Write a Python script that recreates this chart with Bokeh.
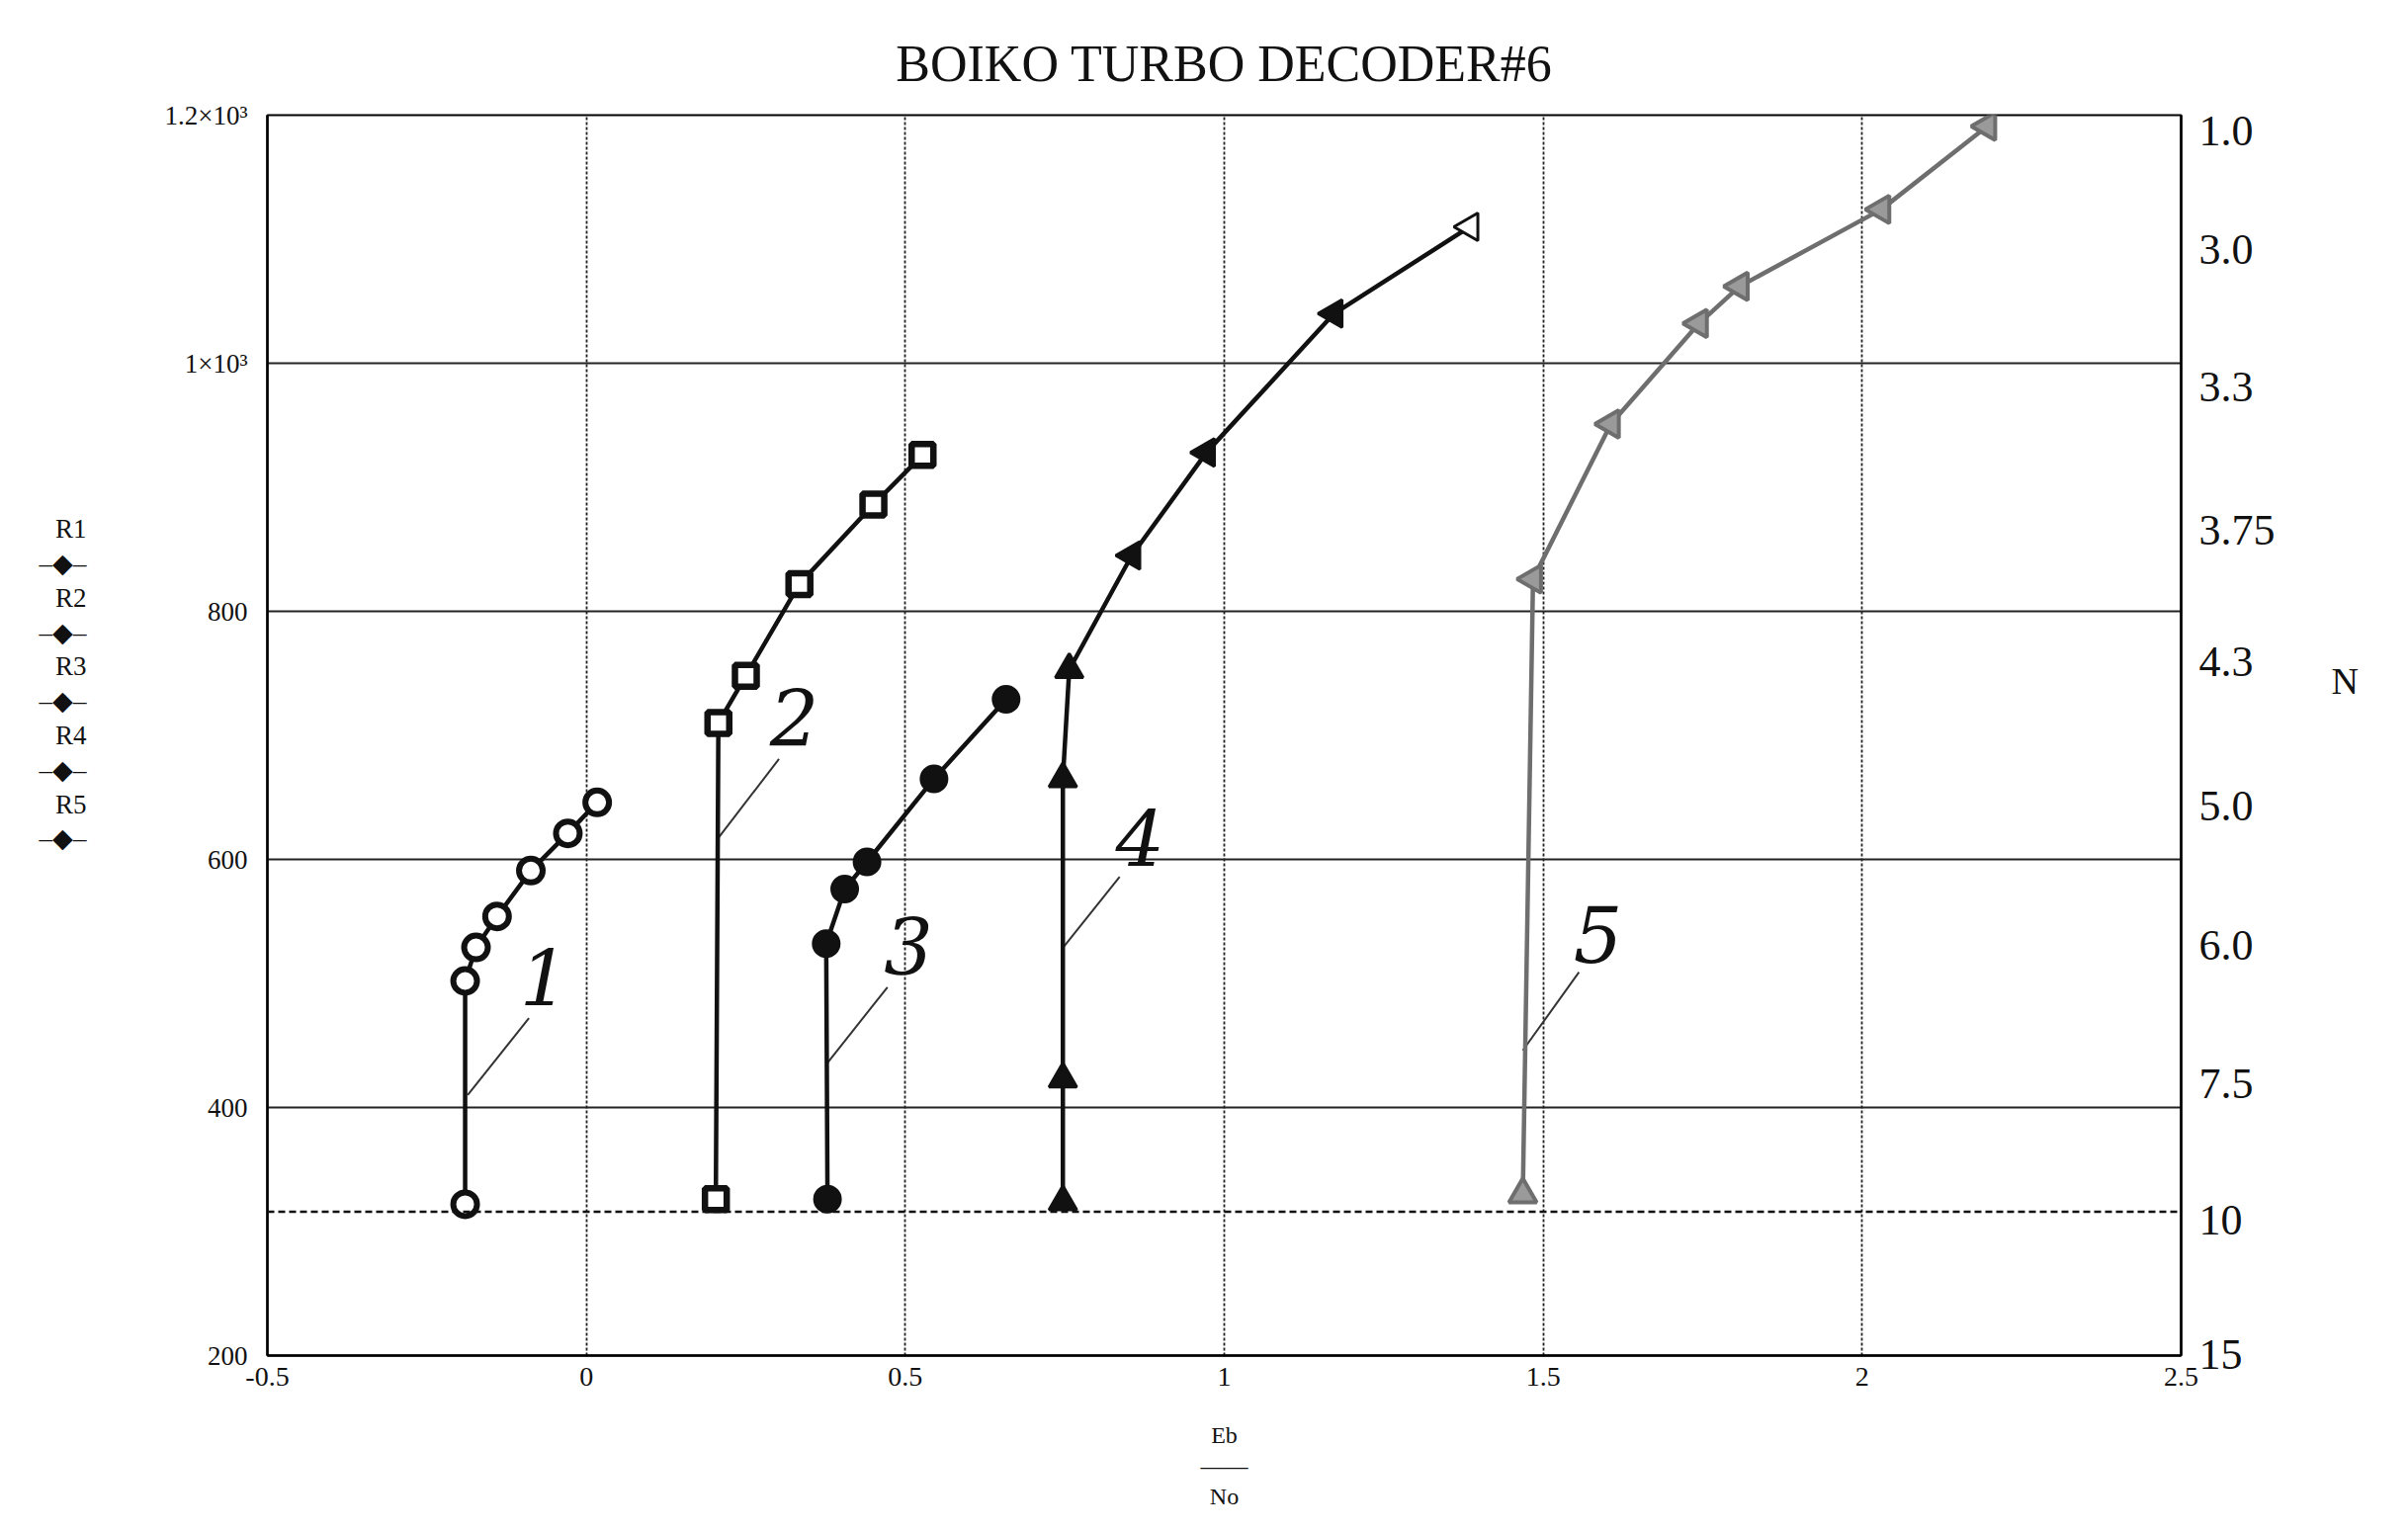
import math
from bokeh.plotting import figure
from bokeh.models import (LinearAxis, FixedTicker, Span, Label)
from bokeh.embed import file_html
from bokeh.resources import INLINE

# ---------------- data ----------------
title_text = "BOIKO TURBO DECODER#6"

c1_x = [-0.19, -0.19, -0.173, -0.14, -0.087, -0.029, 0.017]
c1_y = [322, 502, 529, 554, 591, 621, 646]

c2_x = [0.203, 0.207, 0.25, 0.334, 0.45, 0.527]
c2_y = [326, 710, 748, 822, 886, 926]

c3_x = [0.378, 0.376, 0.405, 0.44, 0.545, 0.658]
c3_y = [326, 532, 576, 598, 665, 729]

c4_x = [0.747, 0.747, 0.747, 0.757, 0.855, 0.972, 1.172, 1.385]
c4_y = [324, 423, 665, 753, 845, 928, 1040, 1110]

c5_x = [1.468, 1.484, 1.606, 1.744, 1.808, 2.03, 2.196]
c5_y = [330, 826, 951, 1032, 1062, 1124, 1191]

threshold_R = 316

x_ticks = [-0.5, 0, 0.5, 1, 1.5, 2, 2.5]
x_tick_labels = ["-0.5", "0", "0.5", "1", "1.5", "2", "2.5"]
y_ticks = [200, 400, 600, 800, 1000, 1200]
y_tick_labels = ["200", "400", "600", "800", "1×10³", "1.2×10³"]

n_ticks = [1187, 1092, 981, 865, 759, 643, 531, 419, 309, 201]
n_labels = ["1.0", "3.0", "3.3", "3.75", "4.3", "5.0", "6.0", "7.5", "10", "15"]

curve_names = ["1", "2", "3", "4", "5"]
name_x = [-0.066, 0.326, 0.505, 0.868, 1.586]
name_y = [505, 714, 530, 617, 540]
leader_x0 = [-0.09, 0.302, 0.472, 0.836, 1.556]
leader_y0 = [472, 681, 497, 586, 509]
leader_x1 = [-0.186, 0.208, 0.378, 0.749, 1.468]
leader_y1 = [410, 618, 436, 530, 446]

legend_items = ["R1", "R2", "R3", "R4", "R5"]
x_name = ["Eb", "——", "No"]
right_name = "N"

# ---------------- figure ----------------
W, H = 2420, 1533
p = figure(width=W, height=H, x_range=(-0.5, 2.5), y_range=(200, 1200),
           output_backend="svg", toolbar_location=None,
           min_border_left=270, min_border_right=214,
           min_border_top=116, min_border_bottom=162)
p.background_fill_color = "white"
p.border_fill_color = "white"
p.outline_line_color = "black"
p.outline_line_width = 2

serif = "Liberation Serif"
black = "#111111"
gray = "#6e6e6e"

# title
p.title.text = title_text
p.title.text_font = serif
p.title.text_font_size = "52px"
p.title.text_font_style = "normal"
p.title.text_color = black
p.title.align = "center"
p.title.standoff = 47

# axes
p.xaxis.ticker = FixedTicker(ticks=x_ticks)
p.xaxis.major_label_overrides = {t: l for t, l in zip(x_ticks, x_tick_labels)}
p.yaxis.ticker = FixedTicker(ticks=y_ticks)
p.yaxis.major_label_overrides = {t: l for t, l in zip(y_ticks, y_tick_labels)}
for ax in (p.xaxis[0], p.yaxis[0]):
    ax.axis_line_color = "black"
    ax.axis_line_width = 2.5
    ax.major_tick_out = 0
    ax.major_tick_in = 0
    ax.minor_tick_out = 0
    ax.minor_tick_in = 0
    ax.major_label_text_font = serif
    ax.major_label_text_color = black
    ax.axis_label_text_font = serif
    ax.axis_label_text_font_style = "normal"
    ax.axis_label_text_color = black
p.xaxis.major_label_text_font_size = "28px"
p.xaxis.major_label_standoff = 12
p.xaxis.axis_label = "\n".join(x_name)
p.xaxis.axis_label_text_font_size = "24px"
p.xaxis.axis_label_standoff = 34
p.xaxis.axis_label_text_line_height = 1.2

p.yaxis.major_label_text_font_size = "27px"
p.yaxis.major_label_standoff = 20
leg_lines = []
for t in legend_items:
    leg_lines += [t, "–◆–"]
leg_lines += [" ", " ", " "]
p.yaxis.axis_label = "\n".join(leg_lines)
p.yaxis.axis_label_orientation = "horizontal"
p.yaxis.axis_label_text_font_size = "27px"
p.yaxis.axis_label_text_line_height = 1.16
p.yaxis.axis_label_standoff = 76

rax = LinearAxis(ticker=FixedTicker(ticks=n_ticks))
rax.major_label_overrides = {t: l for t, l in zip(n_ticks, n_labels)}
rax.axis_line_color = "black"
rax.axis_line_width = 2.5
rax.major_tick_out = 0
rax.major_tick_in = 0
rax.minor_tick_out = 0
rax.minor_tick_in = 0
rax.major_label_text_font = serif
rax.major_label_text_font_size = "44px"
rax.major_label_text_color = black
rax.major_label_standoff = 18
rax.axis_label = right_name + "\n \n "
rax.axis_label_orientation = "horizontal"
rax.axis_label_text_font = serif
rax.axis_label_text_font_style = "normal"
rax.axis_label_text_font_size = "38px"
rax.axis_label_text_color = black
rax.axis_label_text_line_height = 1.3
rax.axis_label_standoff = 54
p.add_layout(rax, "right")

# grid
p.xgrid.ticker = FixedTicker(ticks=x_ticks)
p.ygrid.ticker = FixedTicker(ticks=y_ticks)
p.xgrid.grid_line_color = "#222222"
p.xgrid.grid_line_width = 1.8
p.xgrid.grid_line_dash = "3 2"
p.ygrid.grid_line_color = "#222222"
p.ygrid.grid_line_width = 2

p.add_layout(Span(location=threshold_R, dimension="width", line_color=black,
                  line_width=2.5, line_dash="7 4"))

# leader lines
p.segment(x0=leader_x0, y0=leader_y0, x1=leader_x1, y1=leader_y1,
          line_color="#333333", line_width=2)

# curves
p.line(c1_x, c1_y, line_color=black, line_width=4.5)
p.scatter(c1_x, c1_y, marker="circle", size=24, fill_color="white",
          line_color=black, line_width=6)

p.line(c2_x, c2_y, line_color=black, line_width=4.5)
p.scatter(c2_x, c2_y, marker="square", size=22, fill_color="white",
          line_color=black, line_width=6.5)

p.line(c3_x, c3_y, line_color=black, line_width=4.5)
p.scatter(c3_x, c3_y, marker="circle", size=27, fill_color=black,
          line_color=black, line_width=2)

p.line(c4_x, c4_y, line_color=black, line_width=4.5)
c4_ang = [0, 0, 0, 0] + [math.pi / 2] * (len(c4_x) - 4)
c4_fill = [black] * (len(c4_x) - 1) + ["white"]
p.scatter(x=c4_x, y=c4_y, marker="triangle", size=28, angle=c4_ang,
          fill_color=c4_fill, line_color=black, line_width=3)

p.line(c5_x, c5_y, line_color=gray, line_width=4.5)
c5_ang = [0] + [math.pi / 2] * (len(c5_x) - 1)
p.scatter(x=c5_x, y=c5_y, marker="triangle", size=28, angle=c5_ang,
          fill_color="#9a9a9a", line_color=gray, line_width=4)

# curve numbers
for t, x, y in zip(curve_names, name_x, name_y):
    p.add_layout(Label(x=x, y=y, text=t, text_font="DejaVu Serif",
                       text_font_style="italic", text_font_size="78px",
                       text_align="center", text_baseline="middle",
                       text_color=black))

open("out.html", "w").write(file_html(p, INLINE))
